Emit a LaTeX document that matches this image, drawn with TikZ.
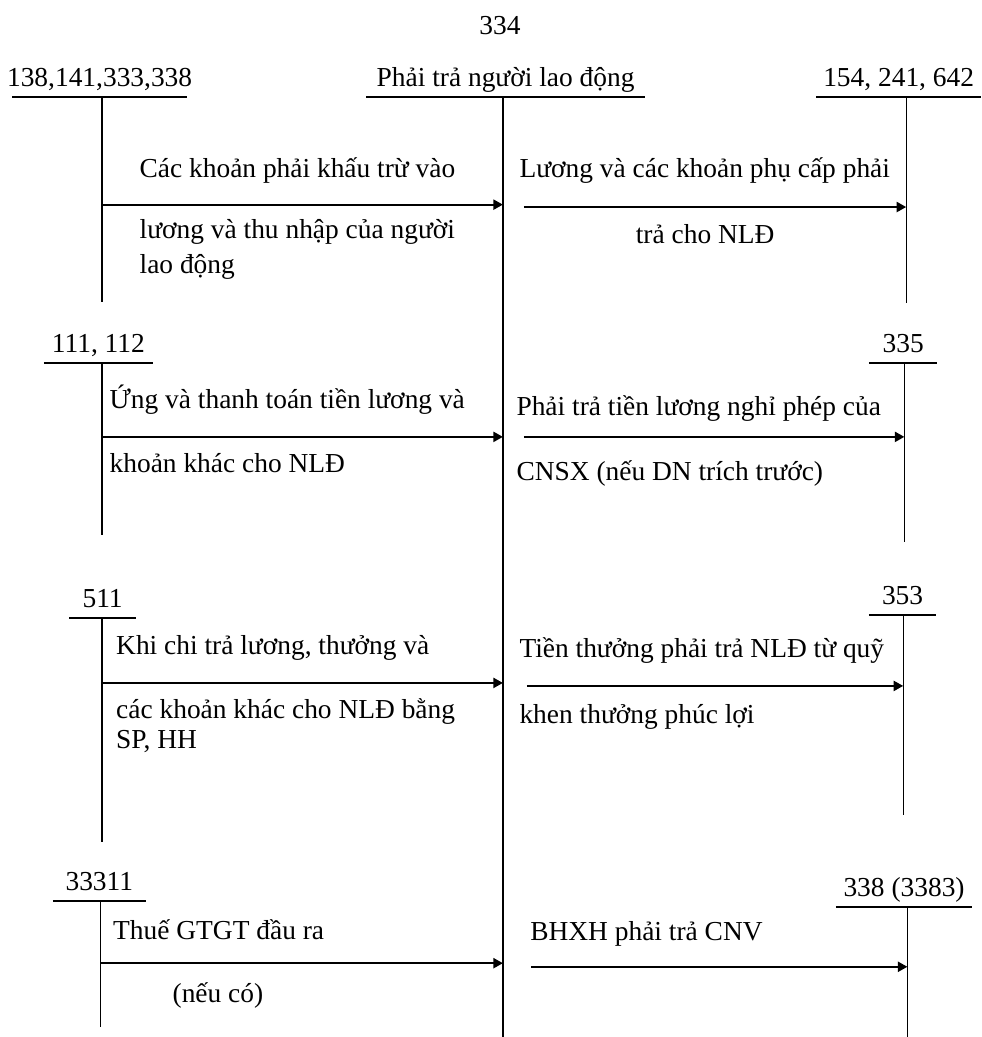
\documentclass[tikz,border=0pt]{standalone}
\usepackage{fontspec}
\setmainfont{Liberation Serif}
\usetikzlibrary{arrows.meta, calc, positioning}
\newcommand{\account}[7]
{
	\coordinate (#1) at (#2,#3);
	\draw[rule] (#4,#3) -- (#5,#3) node[midway, lbl] (#1-lbl) {#7};
	\draw[stem] (#1) -- (#2,#6);
}

\begin{document}
\begin{tikzpicture}[
	every node/.append style={font=\fontsize{13}{16}\selectfont},
	lbl/.style={anchor=base, yshift=1.7mm, inner sep=0pt},
	txt/.style={anchor=base west, inner sep=0pt},
	rule/.style={line width=0.9pt},
	stem/.style={line width=0.6pt},
	arr/.style={line width=0.9pt, -{Triangle[length=1.6mm, width=1.7mm]}}]

	\useasboundingbox (0,0) rectangle (16.35,17.28);

	\node[anchor=base] at (8.33, 16.70) (T){334};

	% T accounts
	\account{M}{8.38}{15.67}{6.10}{10.75}{0}{Phải trả người lao động};
	\account{A1}{1.70}{15.67}{0.20}{3.12}{12.25}{138,141,333,338};
	\account{B1}{15.10}{15.67}{13.60}{16.35}{12.23}{154, 241, 642};
	\account{A2}{1.70}{11.23}{0.73}{2.55}{8.37}{111, 112};
	\account{B2}{15.07}{11.23}{14.48}{15.62}{8.25}{335};
	\account{A3}{1.70}{6.98}{1.15}{2.27}{3.25}{511};
	\account{B3}{15.05}{7.03}{14.48}{15.60}{3.70}{353};
	\account{A4}{1.68}{2.27}{0.88}{2.43}{0.17}{33311};
	\account{B4}{15.12}{2.17}{13.93}{16.20}{0}{338 (3383)};

	% entries
	\coordinate (R1) at (8.73, 13.83);
	\coordinate (R2) at (8.73, 10.00);
	\coordinate (R3) at (8.78, 5.85);
	\coordinate (R4) at (8.85, 1.17);
	\draw[arr] (A1 |- 0,13.87) -- (M |- 0,13.87);
	\draw[arr] (R1) -- (R1 -| B1);
	\draw[arr] (A2 |- 0,10.00) -- (M |- 0,10.00);
	\draw[arr] (R2) -- (R2 -| B2);
	\draw[arr] (A3 |- 0,5.90) -- (M |- 0,5.90);
	\draw[arr] (R3) -- (R3 -| B3);
	\draw[arr] (A4 |- 0,1.23) -- (M |- 0,1.23);
	\draw[arr] (R4) -- (R4 -| B4);

	\node[txt] at (2.32, 14.32) (L1a){Các khoản phải khấu trừ vào};
	\node[txt] at (2.32, 13.30) (L1b){lương và thu nhập của người};
	\node[txt] at (2.32, 12.72) (L1c){lao động};
	\node[txt] at (8.65, 14.32) (R1a){Lương và các khoản phụ cấp phải};
	\node[anchor=base, inner sep=0pt] at (11.75, 13.22) (R1b){trả cho NLĐ};

	\node[txt] at (1.82, 10.48) (L2a){Ứng và thanh toán tiền lương và};
	\node[txt] at (1.82, 9.40) (L2b){khoản khác cho NLĐ};
	\node[txt] at (8.60, 10.35) (R2a){Phải trả tiền lương nghỉ phép của};
	\node[txt] at (8.60, 9.27) (R2b){CNSX (nếu DN trích trước)};

	\node[txt] at (1.93, 6.38) (L3a){Khi chi trả lương, thưởng và};
	\node[txt] at (1.93, 5.30) (L3b){các khoản khác cho NLĐ bằng};
	\node[txt] at (1.93, 4.80) (L3c){SP, HH};
	\node[txt] at (8.65, 6.32) (R3a){Tiền thưởng phải trả NLĐ từ quỹ};
	\node[txt] at (8.65, 5.23) (R3b){khen thưởng phúc lợi};

	\node[txt] at (1.88, 1.63) (L4a){Thuế GTGT đầu ra};
	\node[txt] at (2.87, 0.57) (L4b){(nếu có)};
	\node[txt] at (8.83, 1.60) (R4a){BHXH phải trả CNV};
\end{tikzpicture}
\end{document}
